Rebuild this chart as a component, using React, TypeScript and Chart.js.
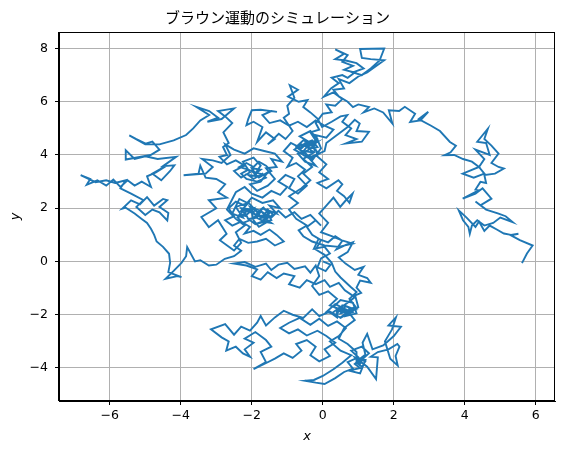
import React, { useEffect, useRef } from 'react';
import { Chart, registerables } from 'chart.js';

Chart.register(...registerables);

const TITLE = 'ブラウン運動のシミュレーション';
const X_LABEL = 'x';
const Y_LABEL = 'y';
const X_RANGE = [-7.43, 6.54];
const Y_RANGE = [-5.24, 8.62];
const TICK_STEP = 2;

const segStart = [
  [0, 0], [0.22, -0.12], [0.08, -0.36], [-0.15, -0.22], [-0.05, 0.12], [0.2, 0.3], [0.05, 0.55], [-0.25, 0.48],
  [-0.12, 0.85], [0.15, 0.72], [0.35, 0.95], [0.55, 0.78], [0.38, 0.45], [0.65, 0.62], [0.85, 0.72], [0.7, 0.35],
  [0.45, 0.15], [0.64, -0.08], [0.9, -0.32], [1.15, -0.2], [1.0, -0.5], [1.25, -0.62], [1.35, -0.8], [1.05, -0.72],
  [0.95, -0.98], [1.08, -1.18], [0.86, -1.3], [0.62, -1.08], [0.45, -0.8], [0.2, -0.95], [0.05, -0.7], [-0.2, -0.85],
  [-0.45, -0.7], [-0.65, -0.98], [-0.95, -0.85], [-0.8, -0.55], [-1.1, -0.45], [-1.3, -0.62], [-1.55, -0.4],
  [-1.75, -0.68], [-2.0, -0.55], [-1.85, -0.3], [-2.15, -0.15], [-2.5, -0.08], [-2.2, -0.02], [-1.9, -0.2],
  [-1.6, -0.08], [-1.45, -0.32], [-1.25, -0.12], [-1.0, -0.05], [-0.8, -0.28], [-0.5, -0.18], [-0.35, -0.42],
  [-0.2, -0.15], [-0.1, -0.55], [-0.3, -0.92], [-0.1, -1.25], [0.15, -1.12], [0.4, -1.4],
];

const segBottom = [
  [0.2, -1.65], [0.45, -1.78], [0.7, -1.55], [0.92, -1.32], [1.0, -1.72], [0.75, -1.92], [0.5, -2.12], [0.2, -1.88],
  [-0.1, -2.05], [-0.3, -1.8], [-0.55, -2.12], [-0.85, -2.0], [-1.1, -1.85], [-1.35, -2.1], [-1.6, -2.4],
  [-1.75, -2.05], [-1.85, -2.3], [-2.05, -2.6], [-2.3, -2.45], [-2.5, -2.75], [-2.75, -2.35], [-3.15, -2.55],
  [-2.85, -2.85], [-2.65, -3.0], [-2.72, -3.35], [-2.45, -3.2], [-2.25, -3.45], [-2.05, -3.58], [-2.2, -3.3],
  [-1.95, -3.05], [-2.2, -2.9], [-1.9, -2.65], [-1.6, -2.95], [-1.45, -3.2], [-1.75, -3.4], [-1.6, -3.78],
  [-1.95, -4.04], [-1.65, -3.85], [-1.35, -3.65], [-1.1, -3.45], [-0.85, -3.62], [-0.6, -3.35], [-0.75, -3.1],
  [-0.45, -2.95], [-0.2, -3.2], [-0.35, -3.52], [-0.1, -3.75], [0.2, -3.55], [0.05, -3.3], [0.35, -3.05],
  [0.1, -2.8], [-0.15, -2.6], [-0.45, -2.78], [-0.7, -2.55], [-0.95, -2.7], [-1.2, -2.5], [-0.95, -2.3],
  [-0.65, -2.12], [-0.35, -2.38], [-0.1, -2.15], [0.15, -2.42], [0.4, -2.25], [0.65, -2.5], [0.45, -2.8],
  [0.2, -3.0], [0.5, -3.35], [0.8, -3.52], [0.55, -3.8], [0.3, -4.05], [0.0, -4.3], [-0.25, -4.45], [-0.5, -4.48],
  [-0.2, -4.55], [0.05, -4.6], [0.35, -4.38], [0.6, -4.15], [0.85, -4.02], [0.7, -3.78], [1.0, -3.6], [0.8, -3.35],
  [1.1, -3.2], [1.3, -3.45], [1.05, -3.75], [1.25, -3.95], [1.5, -4.42], [1.55, -3.6], [1.35, -3.58], [1.55, -3.4],
  [1.85, -3.3], [2.1, -3.1], [2.16, -3.2], [2.05, -3.55], [2.11, -3.91], [1.9, -3.65], [1.75, -3.0], [1.95, -2.55],
  [2.06, -2.1], [1.85, -2.4], [2.2, -2.45], [2.0, -2.8], [1.7, -3.15], [1.4, -3.3], [1.25, -2.72], [1.12, -3.05],
  [1.2, -3.5], [0.9, -3.85], [1.05, -4.0], [0.75, -4.1], [1.05, -4.2], [1.2, -3.7],
  [1.0, -3.7], [1.15, -3.55], [1.05, -3.85], [0.9, -3.6], [1.2, -3.75], [1.1, -3.95], [0.95, -3.8],
  [0.95, -3.4], [0.7, -3.1],
  [0.45, -2.9], [0.6, -2.5], [0.9, -2.2], [0.75, -1.95], [0.45, -1.75], [0.25, -1.95], [0.4, -2.1],
  [0.4, -1.85], [0.6, -1.75], [0.5, -1.95], [0.75, -1.85], [0.6, -2.0], [0.85, -1.9], [0.7, -1.7], [0.9, -1.8],
  [0.55, -1.85], [0.65, -1.8],
  [0.35, -1.6], [0.1, -1.9], [0.4, -2.0], [0.55, -1.65], [0.8, -1.75], [0.65, -2.05], [0.95, -1.95], [0.85, -1.55],
  [0.5, -1.45], [0.3, -1.7], [0.6, -1.9], [0.92, -1.7], [0.75, -1.4], [0.95, -1.15], [0.78, -0.95], [0.5, -0.6],
  [0.35, -0.38], [0.25, -0.05],
];

const segCenterA = [
  [0.05, 0.25], [-0.2, 0.45], [-0.05, 0.8], [-0.3, 1.0], [-0.45, 1.3], [-0.2, 1.55], [-0.05, 1.35], [-0.35, 1.75],
  [-0.6, 1.6], [-0.8, 1.85], [-1.05, 1.65], [-1.25, 1.9], [-1.45, 1.65], [-1.7, 1.85], [-1.55, 1.5], [-1.8, 1.3],
  [-1.95, 1.55],
  [-2.0, 1.85], [-1.85, 1.95], [-2.05, 2.05], [-1.9, 1.75], [-1.75, 1.9], [-1.6, 1.7], [-1.8, 1.6], [-1.65, 1.5],
  [-1.5, 1.85], [-1.7, 2.0], [-1.85, 1.65], [-2.1, 1.6], [-2.2, 1.85], [-2.0, 1.95], [-2.3, 2.0], [-2.15, 1.7],
  [-2.35, 1.75], [-2.2, 1.95], [-1.95, 1.8], [-1.7, 1.65], [-1.55, 1.95], [-1.4, 1.75], [-1.6, 1.6], [-1.45, 1.45],
  [-1.7, 1.5], [-1.9, 1.4], [-2.05, 1.55], [-2.25, 1.45], [-2.4, 1.65], [-2.2, 1.8],
  [-2.15, 1.75], [-1.95, 2.0], [-2.3, 1.9], [-2.1, 2.2], [-2.45, 2.05], [-2.25, 1.65], [-2.55, 1.8],
  [-2.35, 2.35], [-2.05, 2.15], [-1.85, 1.85], [-1.65, 2.05], [-1.9, 1.7], [-1.55, 1.75], [-1.75, 1.45],
  [-1.45, 1.55], [-1.6, 1.95], [-1.3, 1.8], [-1.5, 2.1], [-1.2, 2.0], [-1.4, 2.3], [-1.7, 2.2], [-2.0, 2.4],
  [-2.2, 2.1], [-2.45, 2.25], [-2.65, 2.0], [-2.5, 1.7], [-2.75, 1.55], [-2.55, 1.35], [-2.3, 1.5], [-2.05, 1.3],
  [-2.2, 1.05], [-1.95, 1.15], [-1.75, 1.0], [-1.5, 1.2], [-1.3, 1.0], [-1.1, 0.75], [-1.35, 0.6], [-1.6, 0.85],
  [-1.85, 0.75], [-2.1, 0.7], [-2.35, 0.85], [-2.5, 0.6], [-2.3, 0.4],
  [-2.5, 0.2], [-2.76, 0.1], [-3.0, -0.12], [-3.21, -0.15], [-3.45, 0.05], [-3.6, 0.0],
];

const segLeft = [
  [-3.82, 0.54], [-3.85, 0.2], [-3.98, -0.05], [-4.2, -0.35], [-4.43, -0.65], [-4.1, -0.55], [-3.98, -0.59],
  [-4.35, -0.4], [-4.3, -0.05], [-4.33, 0.29], [-4.5, 0.55], [-4.68, 0.75], [-4.75, 1.0], [-4.84, 1.23],
  [-4.95, 1.45], [-5.1, 1.6], [-5.3, 1.8], [-5.55, 2.02], [-5.65, 1.98], [-5.4, 2.3], [-5.15, 2.15], [-4.95, 2.42],
  [-4.75, 2.1], [-4.5, 2.35], [-4.38, 2.3], [-4.6, 2.05], [-4.35, 1.82], [-4.38, 1.54], [-4.6, 1.85], [-4.8, 1.95],
  [-5.0, 1.75], [-5.25, 2.05], [-5.05, 2.3], [-5.4, 2.55], [-5.7, 2.75], [-5.55, 3.05], [-5.85, 2.95], [-6.1, 3.05],
  [-6.4, 2.98], [-6.82, 3.24], [-6.55, 3.1], [-6.65, 2.88], [-6.35, 3.05], [-6.1, 2.85], [-5.9, 3.08], [-5.7, 2.8],
  [-5.5, 3.05], [-5.3, 2.85], [-5.1, 3.0], [-4.84, 2.8], [-4.95, 3.2], [-4.7, 3.35], [-4.4, 3.6], [-4.8, 3.3],
  [-4.55, 3.05], [-4.3, 3.4], [-4.18, 3.61], [-4.5, 3.58], [-4.13, 3.93], [-4.65, 3.85], [-5.0, 3.95], [-5.3, 3.85],
  [-5.55, 4.18], [-5.55, 3.83], [-4.85, 4.0], [-4.6, 4.2], [-4.8, 4.5], [-4.99, 4.43], [-5.25, 4.6], [-5.45, 4.74],
  [-5.0, 4.4], [-4.6, 4.4], [-4.2, 4.55], [-3.85, 4.75], [-3.65, 5.0], [-3.45, 5.3], [-3.2, 5.5], [-3.57, 5.81],
  [-3.2, 5.65], [-2.95, 5.4], [-3.25, 5.25], [-2.85, 5.35], [-2.5, 5.75], [-2.95, 5.65], [-2.75, 5.45],
  [-2.55, 5.2], [-2.8, 4.85], [-2.65, 4.45], [-2.81, 4.3], [-2.7, 4.0], [-2.91, 3.93], [-2.7, 3.65],
];

const segCenterB = [
  [-2.45, 3.8], [-2.2, 3.6], [-2.5, 3.4], [-2.3, 3.15], [-2.05, 3.35], [-2.25, 3.75], [-1.95, 3.9], [-1.75, 3.6],
  [-1.9, 3.3], [-1.75, 3.45], [-2.0, 3.5], [-1.85, 3.2], [-2.1, 3.25], [-1.95, 3.1], [-1.7, 3.3], [-1.6, 3.15],
  [-1.85, 3.0], [-2.15, 3.1], [-2.3, 3.3], [-2.1, 3.45], [-2.35, 3.55], [-2.15, 3.7], [-1.95, 3.55], [-1.8, 3.75],
  [-1.6, 3.6], [-1.45, 3.4], [-1.65, 3.25], [-1.9, 3.35],
  [-2.0, 3.4], [-1.8, 3.15], [-1.55, 3.35], [-1.75, 3.0], [-2.05, 2.9], [-1.85, 2.65], [-1.55, 2.85], [-1.35, 3.1],
  [-1.6, 3.5], [-1.3, 3.55], [-1.45, 3.85], [-1.15, 3.75], [-1.35, 4.05], [-1.65, 4.15], [-1.95, 4.25],
  [-2.2, 4.05], [-2.5, 4.2], [-2.75, 4.4], [-2.6, 4.0], [-2.85, 3.7], [-3.1, 3.8], [-3.4, 3.85], [-3.1, 3.55],
  [-3.3, 3.3], [-3.92, 3.24], [-3.5, 3.3], [-3.45, 3.6], [-3.3, 3.15], [-3.0, 3.1], [-2.75, 2.9], [-2.95, 2.6],
  [-2.7, 2.4], [-3.21, 2.3], [-3.0, 2.0], [-3.42, 1.67], [-3.21, 1.29], [-2.95, 1.55], [-2.71, 1.04], [-2.9, 0.8],
  [-2.5, 0.41], [-2.3, 0.7], [-2.45, 1.1], [-2.2, 1.35], [-2.45, 1.6], [-2.7, 1.95], [-2.45, 2.6], [-2.2, 2.8],
  [-2.0, 2.55], [-1.7, 2.4], [-1.45, 2.65], [-1.2, 2.5], [-1.0, 2.8], [-1.25, 3.0], [-1.05, 3.25], [-0.8, 3.1],
  [-0.95, 2.75], [-0.7, 2.55], [-0.45, 2.85], [-0.7, 3.2], [-0.5, 3.45], [-0.75, 3.7], [-1.0, 3.55], [-0.85, 3.9],
  [-1.1, 4.15], [-0.9, 4.45], [-0.6, 4.25], [-0.4, 4.5], [-0.65, 4.7], [-0.35, 4.9], [-0.15, 4.6], [-0.3, 4.3],
  [-0.1, 4.05], [-0.4, 3.9], [-0.2, 3.6], [-0.5, 3.75], [-0.7, 4.05], [-0.45, 4.15],
  [-0.4, 4.2], [-0.25, 4.35], [-0.45, 4.4], [-0.3, 4.1], [-0.55, 4.15], [-0.4, 3.95], [-0.2, 4.2], [-0.15, 4.0],
  [-0.35, 3.85], [-0.55, 4.0], [-0.65, 4.25], [-0.5, 4.45], [-0.3, 4.55], [-0.15, 4.3], [-0.35, 4.25], [-0.6, 4.4],
  [-0.8, 4.2], [-0.6, 4.05], [-0.45, 4.3], [-0.2, 4.45],
  [-0.25, 4.4], [-0.55, 4.55],
  [-0.75, 4.3], [-0.5, 4.05], [-0.3, 3.8], [-0.05, 4.25], [-0.2, 4.75], [0.1, 4.65], [0.3, 4.95], [0.05, 5.1],
  [-0.2, 5.3], [-0.45, 5.05], [-0.7, 5.25], [-0.95, 5.1], [-1.2, 5.3], [-1.5, 5.2], [-1.7, 5.5], [-1.45, 5.65],
  [-1.29, 5.62], [-1.75, 5.7], [-2.0, 5.68], [-2.1, 5.35], [-2.15, 5.12], [-1.95, 5.25], [-1.7, 5.05],
  [-1.85, 4.49], [-1.6, 4.85], [-1.35, 4.6], [-1.55, 4.4], [-1.24, 4.8], [-1.05, 4.6], [-0.85, 4.9], [-1.1, 5.4],
  [-0.95, 5.55], [-1.0, 5.85], [-0.8, 6.15], [-0.93, 6.62], [-0.7, 6.45], [-0.98, 6.19], [-0.68, 6.0],
  [-0.43, 6.06], [-0.55, 5.8], [-0.35, 5.6], [-0.15, 5.37], [-0.02, 5.05], [0.25, 5.25], [0.5, 5.45], [0.69, 5.5],
  [0.55, 5.25], [0.8, 5.0], [0.64, 4.75], [0.95, 4.6], [0.64, 4.43], [1.1, 4.5], [1.3, 4.87], [0.95, 4.9],
  [1.04, 5.18], [0.9, 5.32], [0.7, 5.05], [0.4, 4.75], [0.1, 4.45], [0.05, 4.15], [-0.2, 4.0], [0.1, 3.65],
  [-0.1, 3.35], [0.15, 3.1], [-0.15, 2.95], [0.1, 2.75], [0.44, 3.05], [0.55, 2.9], [0.4, 2.65], [0.6, 2.45],
  [0.75, 2.2], [0.84, 2.55], [0.65, 2.3], [0.49, 2.05], [0.3, 2.4], [0.1, 2.1], [-0.1, 1.8], [0.15, 1.45],
  [-0.05, 1.1], [0.25, 0.95], [0.54, 0.79], [0.84, 0.67], [0.45, 0.55], [0.05, 0.6], [-0.3, 0.75], [-0.55, 0.95],
  [-0.68, 1.17], [-0.45, 1.35], [-0.75, 1.6], [-0.95, 1.95], [-0.7, 2.2], [-0.95, 2.45], [-0.6, 2.75],
  [-0.35, 3.05], [-0.55, 3.3], [-0.3, 3.55], [-0.55, 3.85], [-0.25, 4.1], [-0.5, 4.35], [-0.2, 4.55],
  [-0.35, 4.85], [-0.1, 4.95], [-0.2, 5.2],
];

const segTop = [
  [0.0, 5.55], [0.25, 5.6], [0.1, 5.9], [0.35, 5.85], [0.55, 6.1], [0.3, 6.35], [0.03, 6.19], [0.23, 6.5],
  [0.45, 6.7], [0.25, 6.9], [0.55, 7.0], [0.7, 6.9], [0.9, 7.1], [0.6, 7.2], [0.85, 7.35], [0.55, 7.5], [0.7, 7.75],
  [0.35, 7.97], [0.6, 7.8], [0.35, 7.6], [0.65, 7.55], [0.95, 7.45], [1.15, 7.25], [0.85, 7.1], [1.1, 7.0],
  [1.35, 7.25], [1.6, 7.55], [1.73, 8.0], [1.05, 7.98], [1.1, 7.65], [1.35, 7.6], [1.73, 7.56], [1.25, 7.1],
  [1.0, 6.95], [0.75, 6.7], [0.45, 6.85], [0.6, 6.5], [0.3, 6.45], [0.45, 6.2], [0.7, 6.0], [0.85, 5.8], [1.0, 5.9],
];

const segRight = [
  [1.3, 5.8], [1.15, 5.6], [1.45, 5.75], [1.7, 5.6], [1.96, 5.18], [1.86, 5.68], [2.15, 5.65], [2.31, 5.81],
  [2.6, 5.55], [2.46, 5.24], [2.75, 5.3], [2.97, 5.62], [2.7, 5.35], [3.05, 5.1], [3.3, 4.9], [3.58, 4.49],
  [3.75, 4.35], [3.6, 4.1], [3.43, 3.99], [3.7, 4.0], [3.95, 3.85], [4.2, 3.75], [4.4, 3.55], [3.94, 3.3],
  [4.25, 3.15], [4.55, 3.3], [4.4, 3.55], [4.55, 3.85], [4.3, 4.2], [4.7, 4.0], [4.6, 4.45], [4.35, 4.5],
  [4.65, 4.99], [4.55, 4.6], [4.75, 4.35], [4.95, 4.05], [4.75, 3.7], [4.95, 3.55], [5.1, 3.49], [4.85, 3.3],
  [4.55, 3.25], [4.6, 2.95], [4.44, 2.99], [4.3, 2.7], [4.39, 2.67], [3.94, 2.36], [4.3, 2.55], [4.5, 2.75],
  [4.75, 2.36], [4.44, 2.11], [4.3, 2.25], [4.6, 1.95], [4.95, 1.8], [5.15, 1.7], [5.35, 1.48], [5.0, 1.65],
  [4.8, 1.45], [4.55, 1.35], [4.35, 1.55], [4.2, 1.35], [4.14, 1.04], [4.1, 1.3], [3.95, 1.55], [3.83, 1.92],
  [4.05, 1.65], [4.3, 1.3], [4.4, 1.5], [4.55, 1.15], [4.7, 1.35], [4.9, 1.2], [5.1, 1.05], [5.3, 1.0],
  [5.51, 1.04], [5.3, 0.98], [5.55, 0.8], [5.91, 0.6], [5.75, 0.3], [5.61, -0.06],
];

const walk = [...segStart, ...segBottom, ...segCenterA, ...segLeft, ...segCenterB, ...segTop, ...segRight];

const fmt = (v: number | string) => {
  const n = Number(v);
  return n < 0 ? '\u2212' + Math.abs(n) : String(n);
};

const framePlugin = {
  id: 'frame',
  afterDraw(chart: any) {
    const { ctx, chartArea } = chart;
    ctx.save();
    ctx.strokeStyle = '#000';
    ctx.lineWidth = 1;
    ctx.strokeRect(chartArea.left - 0.5, chartArea.top + 0.5, chartArea.right - chartArea.left, chartArea.bottom - chartArea.top - 1);
    ctx.restore();
  },
};

export default function App() {
  const ref = useRef<HTMLCanvasElement | null>(null);
  useEffect(() => {
    if (!ref.current) return;
    const tickFont = { family: '"DejaVu Sans", sans-serif', size: 12.5 };
    const labelFont = { family: '"DejaVu Sans", sans-serif', size: 13, style: 'italic' as const };
    const chart = new Chart(ref.current, {
      type: 'scatter',
      data: {
        datasets: [
          {
            data: walk.map(([x, y]) => ({ x, y })),
            showLine: true,
            borderColor: '#1f77b4',
            backgroundColor: '#1f77b4',
            borderWidth: 1.9,
            pointRadius: 0,
            pointHoverRadius: 0,
            tension: 0,
            fill: false,
          },
        ],
      },
      options: {
        responsive: false,
        animation: false,
        devicePixelRatio: 1,
        layout: { padding: { left: 0, right: 9, top: 0, bottom: 0 } },
        plugins: {
          legend: { display: false },
          tooltip: { enabled: false },
          title: {
            display: true,
            text: TITLE,
            color: '#000',
            font: { family: '"Noto Sans CJK JP", sans-serif', size: 15, weight: 'normal' },
            padding: { top: 8, bottom: 6 },
          },
        },
        scales: {
          x: {
            type: 'linear',
            min: X_RANGE[0],
            max: X_RANGE[1],
            ticks: { stepSize: TICK_STEP, includeBounds: false, color: '#000', font: tickFont, padding: 3, maxRotation: 0, callback: fmt },
            grid: { color: '#b0b0b0', lineWidth: 1, tickLength: 4, tickColor: '#000', tickWidth: 1 },
            border: { color: '#000', width: 1 },
            title: { display: true, text: X_LABEL, color: '#000', font: labelFont, padding: { top: 0, bottom: 8 } },
            afterFit: (s: any) => { s.height = 51; },
          },
          y: {
            type: 'linear',
            min: Y_RANGE[0],
            max: Y_RANGE[1],
            ticks: { stepSize: TICK_STEP, includeBounds: false, color: '#000', font: tickFont, padding: 7, callback: fmt },
            grid: { color: '#b0b0b0', lineWidth: 1, tickLength: 4, tickColor: '#000', tickWidth: 1 },
            border: { color: '#000', width: 1 },
            title: { display: true, text: Y_LABEL, color: '#000', font: labelFont, padding: { top: 8, bottom: 0 } },
            afterFit: (s: any) => { s.width = 59; },
          },
        },
      },
      plugins: [framePlugin],
    });
    return () => chart.destroy();
  }, []);
  return (
    <div style={{ position: 'absolute', left: 0, top: 0, width: 564, height: 452, background: '#fff' }}>
      <canvas ref={ref} width={564} height={452} style={{ display: 'block' }} />
    </div>
  );
}
